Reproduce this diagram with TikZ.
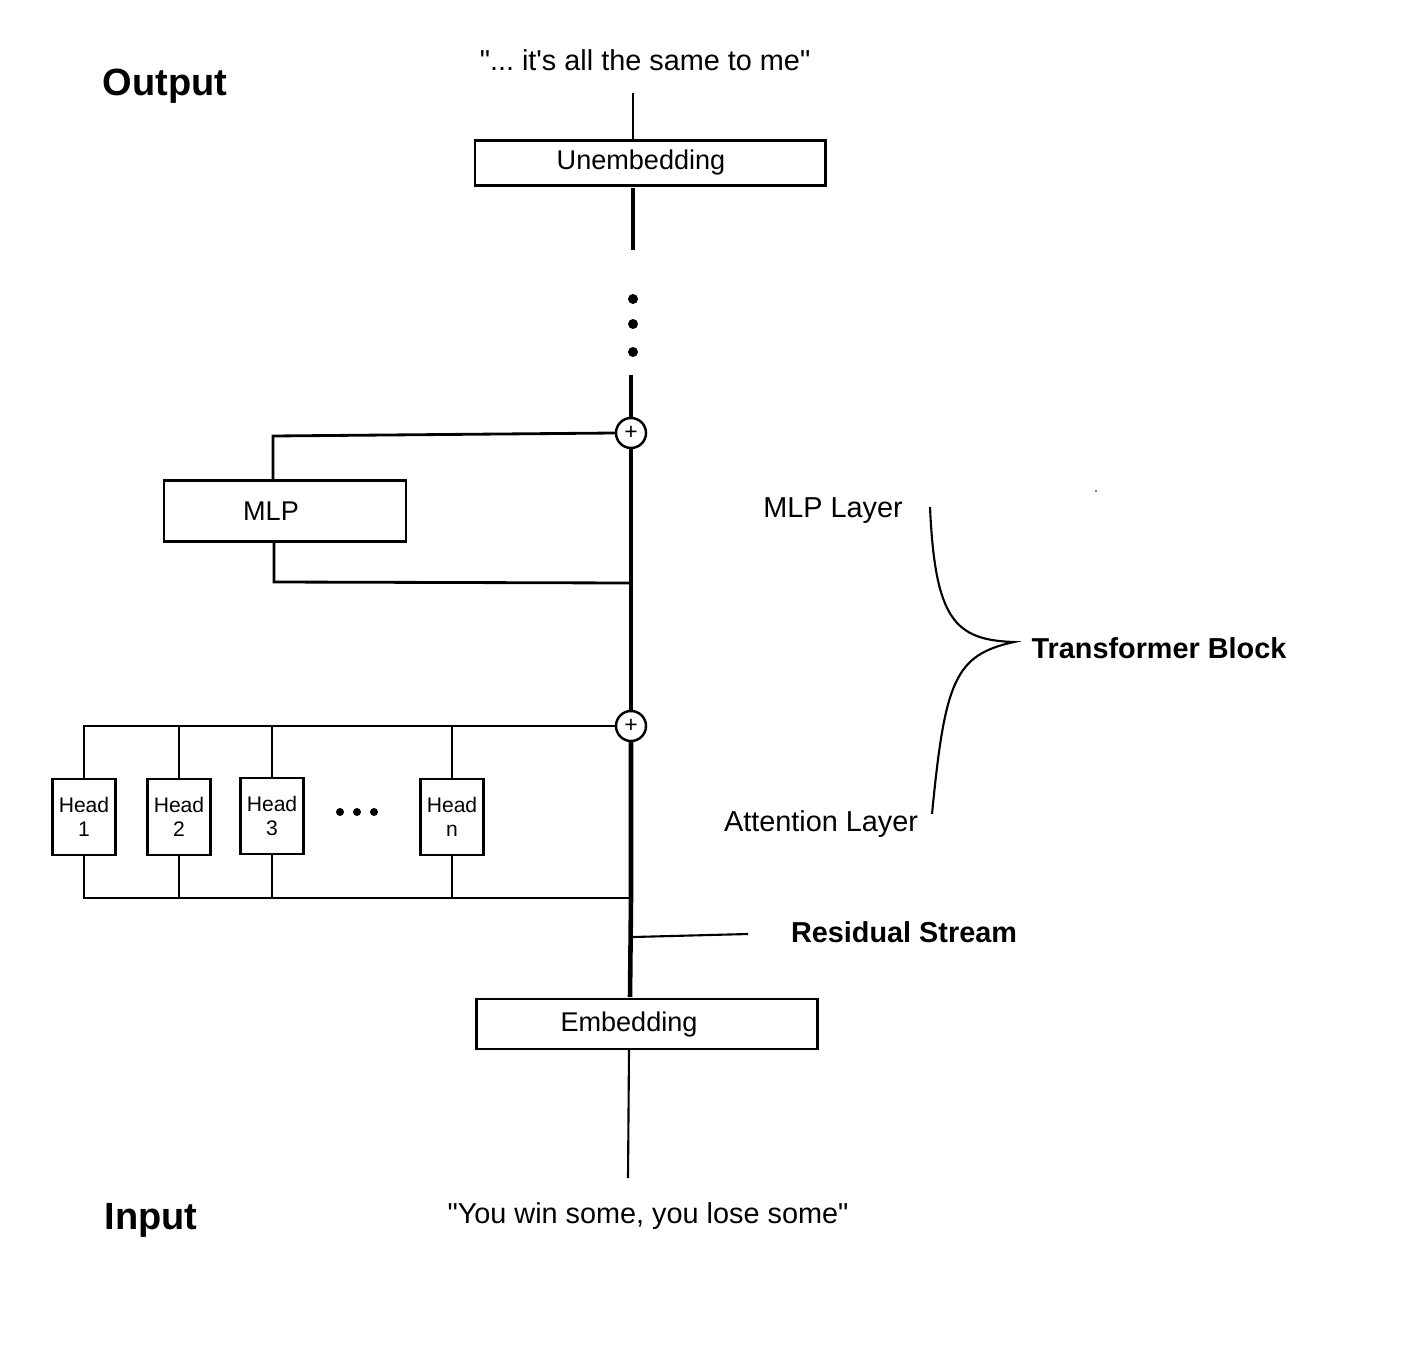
\documentclass[tikz,border=0pt]{standalone}
\usepackage{fontspec}
\setmainfont{Liberation Sans}[Ligatures=TeXOff]
\frenchspacing
\begin{document}
\begin{tikzpicture}[x=0.01cm,y=-0.01cm,
	box/.style={draw,line width=0.8pt,inner sep=0,font=\fontsize{7.7}{9}\selectfont},
	head/.style={box,minimum width=0.63cm,minimum height=0.76cm,align=center,font=\fontsize{6}{6.9}\selectfont},
	lbl/.style={inner sep=0,font=\fontsize{8.2}{10}\selectfont},
	blbl/.style={inner sep=0,font=\fontsize{8.2}{10}\selectfont\bfseries},
	big/.style={inner sep=0,font=\fontsize{10.8}{13}\selectfont\bfseries},
	plus/.style={circle,draw,line width=0.7pt,minimum size=0.30cm,inner sep=0,font=\fontsize{6.5}{6.5}\selectfont},
	wire/.style={line width=0.8pt},
	stream/.style={line width=1.3pt},
	thinwire/.style={line width=0.6pt}]
\useasboundingbox (0,0) rectangle (1401,1355);

% labels
\node[big] (out) at (165,86) {Output};
\node[big] (in) at (151,1220) {Input};
\node[lbl] (outtxt) at (645,60) {"... it's all the same to me"};
\node[lbl] (intxt) at (648,1216) {"You win some, you lose some"};
\node[lbl] (mlplayer) at (833,511) {MLP Layer};
\node[lbl] (attlayer) at (821,824) {Attention Layer};
\node[blbl] (block) at (1159,648) {Transformer Block};
\node[blbl] (rs) at (904,932) {Residual Stream};

% boxes
\node[box,minimum width=3.50cm,minimum height=0.45cm] (unemb) at (650,163) {Unembedding\hspace*{0.18cm}};
\node[box,minimum width=3.41cm,minimum height=0.50cm] (emb) at (647,1024) {Embedding\hspace*{0.36cm}};
\node[box,minimum width=2.42cm,minimum height=0.61cm] (mlp) at (285,511) {MLP\hspace*{0.28cm}};
\node[head] (h1) at (84,817) {Head\\1};
\node[head] (h2) at (179,817) {Head\\2};
\node[head] (h3) at (272,816) {Head\\3};
\node[head] (hn) at (452,817) {Head\\n};
\node[plus] (plusM) at (631,433) {+};
\node[plus] (plusA) at (631,726) {+};

% residual stream
\coordinate (outTop) at (633,93);
\coordinate (unembTop) at (633,141);
\coordinate (unembBot) at (633,188);
\coordinate (dotsTop) at (633,250);
\coordinate (dotsBot) at (631,375);
\coordinate (mlpIn) at (631,583);
\coordinate (headIn) at (631,898);
\coordinate (embTop) at (630,997);
\coordinate (embBot) at (629,1049);
\coordinate (inBot) at (628,1178);
\draw[thinwire] (outTop) -- (unembTop);
\draw[stream] (unembBot) -- (dotsTop);
\foreach \y in {299,324,352}
	\fill (633,\y) circle (0.05cm);
\draw[stream] (dotsBot) -- (plusM.north);
\draw[stream] (plusM.south) -- (mlpIn) -- (plusA.north);
\draw[stream] (plusA.south) -- (headIn) -- (embTop);
\draw[thinwire] (embBot) -- (inBot);

% mlp layer
\draw[wire] (plusM.west) -- (273,436) -- (mlp.north -| 273,0);
\draw[wire] (mlp.south -| 274,0) -- (274,582) -- (mlpIn);

% attention heads
\draw[wire] (plusA.west) -- (h1.north |- plusA.west) -- (h1.north);
\foreach \h in {h2,h3,hn}
	\draw[wire] (\h.north) -- (\h.north |- plusA.west);
\draw[wire] (h1.south) -- (h1.south |- headIn) -- (headIn);
\foreach \h in {h2,h3,hn}
	\draw[wire] (\h.south) -- (\h.south |- headIn);
\foreach \x in {340,357,374}
	\fill (\x,812) circle (0.04cm);

% residual stream label
\coordinate (rsTip) at (633,937);
\coordinate (rsEnd) at (748,934);
\draw[thinwire] (rsTip) -- (rsEnd);

% brace
\coordinate (braceTop) at (930,507);
\coordinate (braceTip) at (1014,642);
\coordinate (braceBot) at (932,814);
\draw[thinwire] (braceTop) .. controls (935,620) and (955,640) .. (braceTip)
	.. controls (955,655) and (945,680) .. (braceBot);
\fill (1096,491) circle (0.008cm);
\end{tikzpicture}
\end{document}
